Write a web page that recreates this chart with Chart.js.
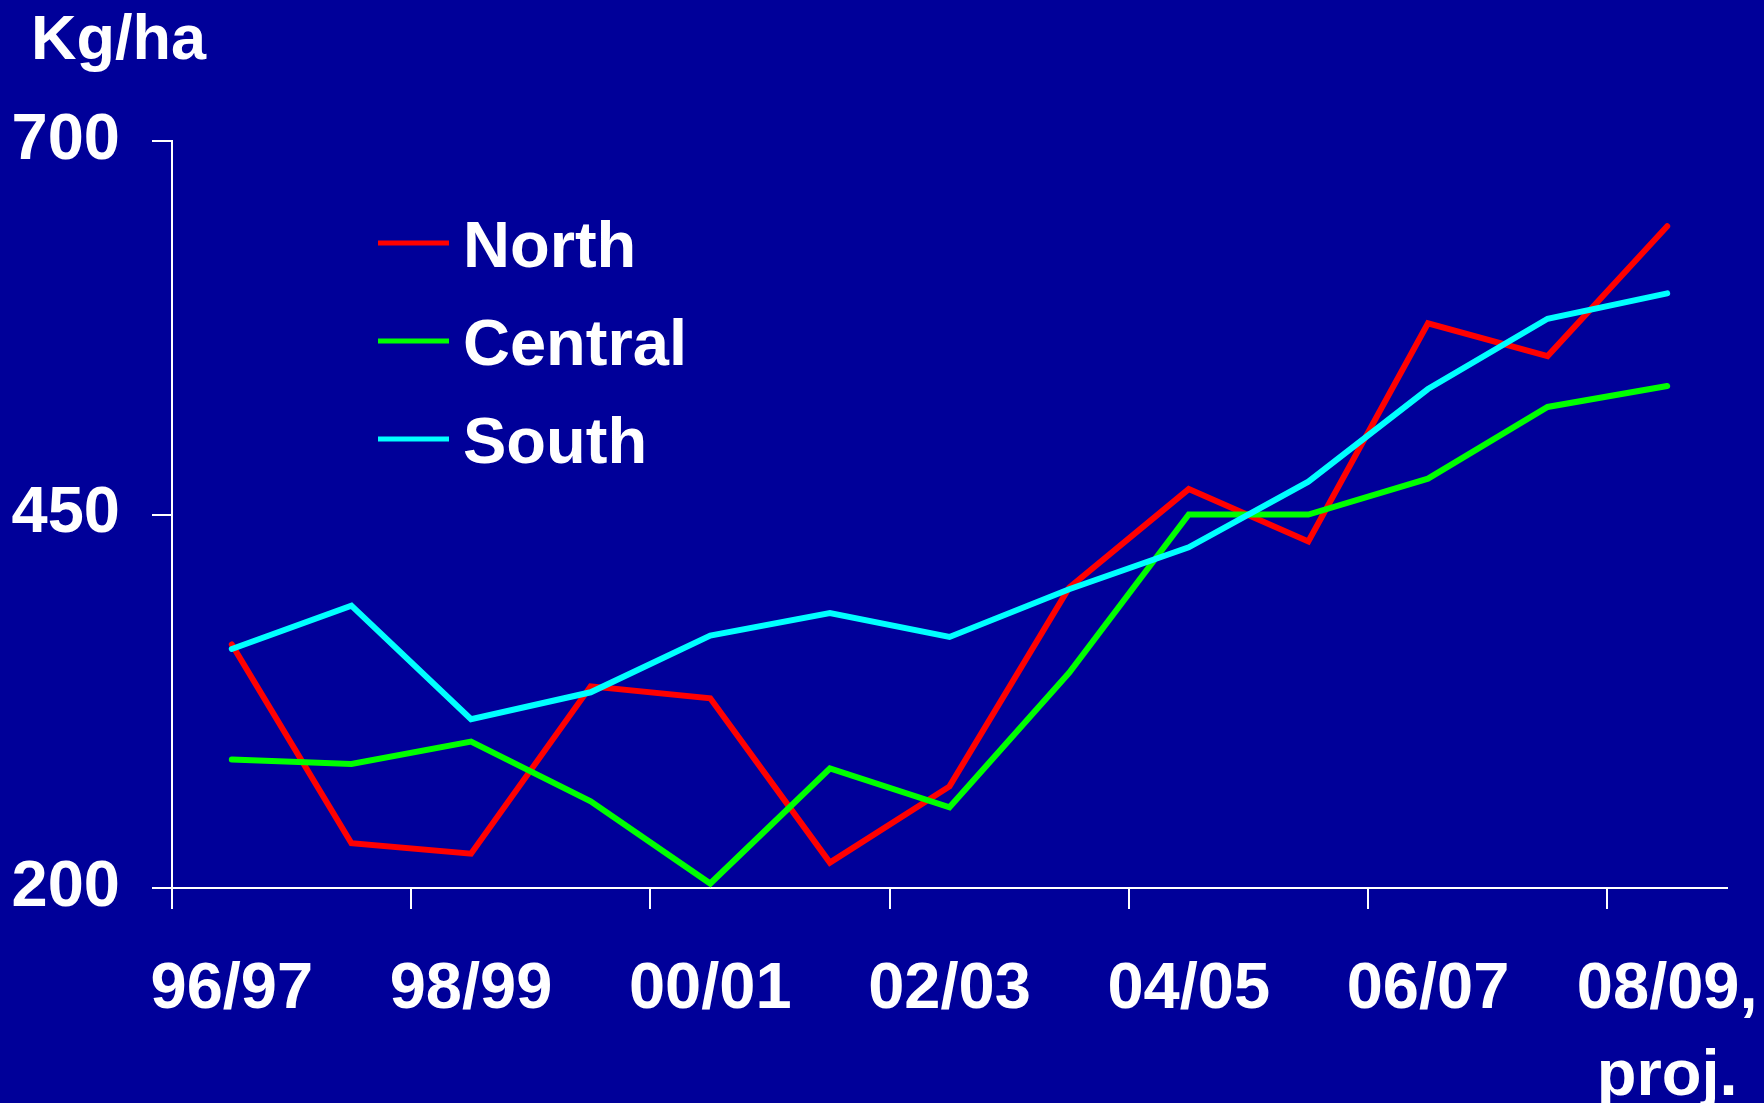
<!DOCTYPE html>
<html>
<head>
<meta charset="utf-8">
<script src="https://cdn.jsdelivr.net/npm/chart.js@4.4.0/dist/chart.umd.min.js"></script>
<style>
	body { margin: 0; background: #000099; }
	canvas { display: block; }
</style>
</head>
<body>
<canvas id="myChart" width="1764" height="1103"></canvas>
<script>
const years = ['96/97','97/98','98/99','99/00','00/01','01/02','02/03','03/04','04/05','05/06','06/07','07/08',['08/09,','proj.']]
const north = [363,230,223,335,327,217,268,401,467,432,578,556,643]
const central = [286,283,298,258,203,280,254,344,450,450,474,522,536]
const south = [360,389,313,331,369,384,368,400,428,472,534,581,598]
const yTicks = [200,450,700]
const unit = 'Kg/ha'

const font = { family: '"Liberation Sans", Arial, sans-serif', size: 65, weight: 'bold', lineHeight: 1.33 }

const ctx = document.getElementById('myChart');

// y unit in the corner + legend list inside the plot
const extras = {
	id: 'extras',
	afterDraw(chart) {
		const c = chart.ctx
		c.save()
		c.fillStyle = '#fff'
		c.font = 'bold 63px "Liberation Sans", Arial, sans-serif'
		c.textBaseline = 'alphabetic'
		c.textAlign = 'left'
		c.fillText(unit, 31, 59)
		c.font = 'bold 65px "Liberation Sans", Arial, sans-serif'
		c.textBaseline = 'middle'
		chart.data.datasets.forEach((ds, i) => {
			const y = 243 + i * 98
			c.strokeStyle = ds.borderColor
			c.lineWidth = 5
			c.beginPath()
			c.moveTo(378, y)
			c.lineTo(449, y)
			c.stroke()
			c.fillText(ds.label, 463, y + 6)
		})
		c.restore()
	}
}

const datasets = [
	{ label: 'North', data: north, borderColor: '#ff0000', order: 3 },
	{ label: 'Central', data: central, borderColor: '#00ff00', order: 2 },
	{ label: 'South', data: south, borderColor: '#00ffff', order: 1 },
].map(d => Object.assign(d, {
	borderWidth: 6,
	pointRadius: 0,
	tension: 0,
	fill: false,
	borderCapStyle: 'round',
	borderJoinStyle: 'miter'
}))

const myChart = new Chart(ctx, {
	type: 'line',
	data: { labels: years, datasets },
	options: {
		responsive: false,
		animation: false,
		layout: { padding: { top: 141, right: 37, left: 0, bottom: 0 } },
		plugins: { legend: { display: false }, tooltip: { enabled: false } },
		scales: {
			x: {
				offset: true,
				border: { color: '#fff', width: 2 },
				grid: {
					offset: true,
					drawOnChartArea: false,
					tickLength: 21,
					lineWidth: 2,
					color: c => (c.index % 2 === 0 ? '#fff' : 'rgba(0,0,0,0)')
				},
				ticks: {
					autoSkip: false,
					maxRotation: 0,
					color: '#fff',
					font,
					padding: 38,
					callback: function(v, i) { return i % 2 === 0 ? this.getLabelForValue(v) : '' }
				},
				afterFit: s => { s.height = 215; s.paddingLeft = 0; s.paddingRight = 0 }
			},
			y: {
				min: 200,
				max: 700,
				border: { color: '#fff', width: 2 },
				grid: { drawOnChartArea: false, tickLength: 20, lineWidth: 2, color: '#fff' },
				afterBuildTicks: s => { s.ticks = yTicks.map(v => ({ value: v })) },
				ticks: { color: '#fff', font, padding: 32 },
				afterFit: s => { s.width = 172 }
			}
		}
	},
	plugins: [extras]
});
</script>
</body>
</html>
